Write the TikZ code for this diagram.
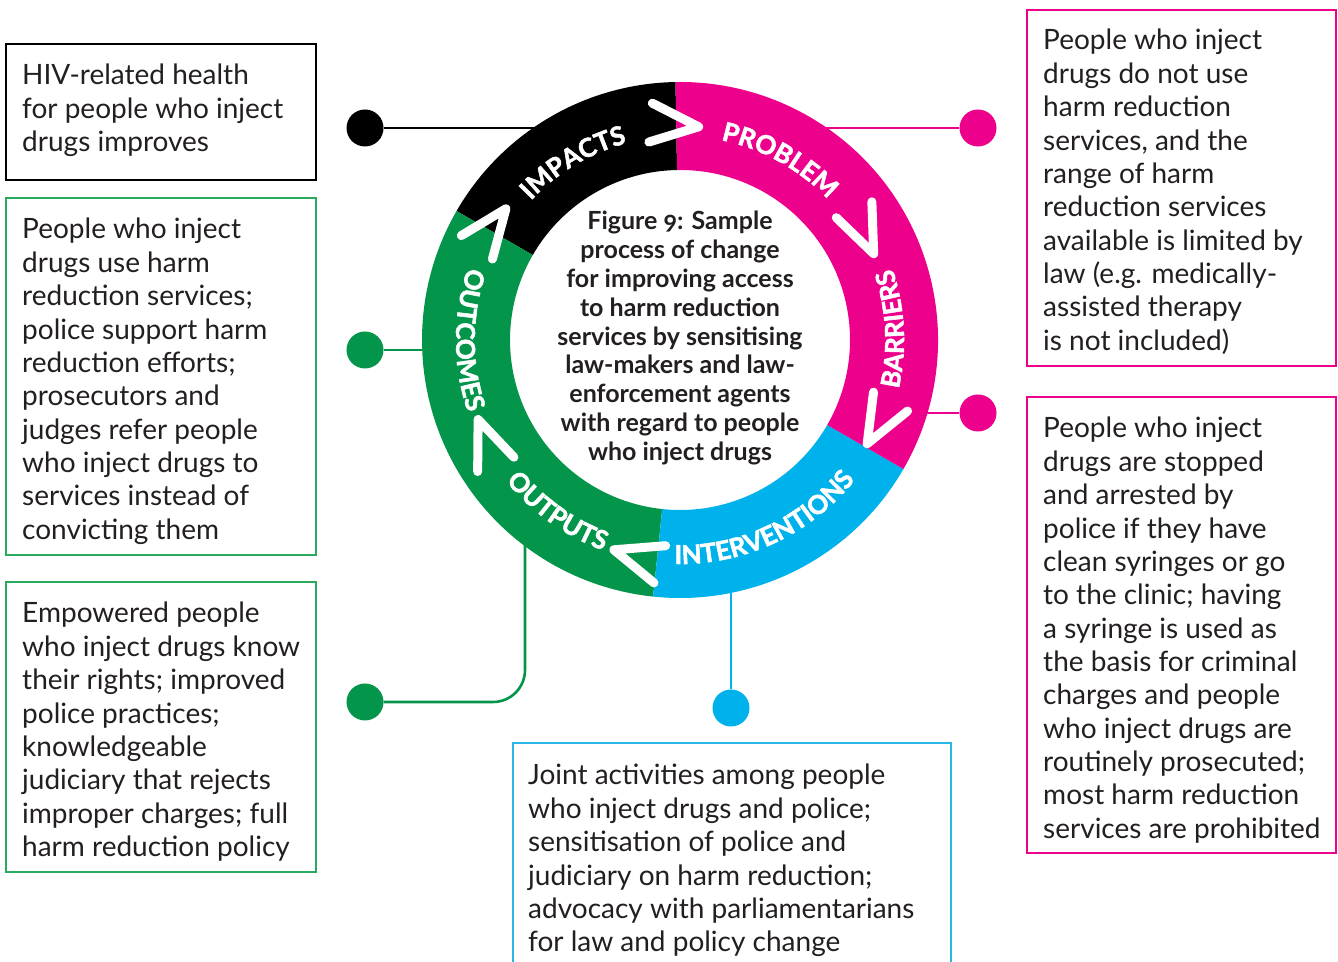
\documentclass[tikz,border=0pt]{standalone}
\usepackage{fontspec}
\setmainfont{Lato}
\newfontfamily\ringfont{Lato}[BoldFeatures={FakeBold=2}]
\usetikzlibrary{decorations.text,calc}
\definecolor{mag}{RGB}{236,0,140}
\definecolor{cyn}{RGB}{0,178,236}
\definecolor{grn}{RGB}{3,150,74}
\definecolor{grnb}{RGB}{40,170,95}
\definecolor{cynb}{RGB}{41,182,232}
\definecolor{ink}{RGB}{35,31,32}
\newcommand\bodytext[2][300pt]{\parbox[t]{#1}{\fontsize{28}{33.35}\selectfont\raggedright #2}}
\tikzset{
  boxline/.style={line width=1.5pt},
  body/.style={anchor=base west, inner sep=0pt, text=ink},
  dot/.style={circle, inner sep=0pt, minimum size=37pt},
  conn/.style={line width=2.6pt},
  chev/.style={white, line width=9pt, line cap=round, line join=round},
  ringlbl/.style={decorate, decoration={text along path, text align=center,
     text color=white, text format delimiters={|}{|},
     text={|\ringfont\bfseries\fontsize{26}{26}\selectfont|#1}}}
}
\begin{document}
\begin{tikzpicture}[x=1pt,y=1pt]
\useasboundingbox (0,0) rectangle (1338,961);
\fill[white] (0,0) rectangle (1338,961);
\coordinate (C) at (680,621);

% connector end points inside the ring
\coordinate (r1) at (560,833);
\coordinate (r2) at (800,833);
\coordinate (r3) at (900,548);
\coordinate (r4) at (450,611);
\coordinate (r5) at (525,450);
\coordinate (k5) at (525,259);
\coordinate (r6) at (731,400);

% dots
\node[dot, fill=black] (d1) at (365,833) {};
\node[dot, fill=mag] (d2) at (978,833) {};
\node[dot, fill=mag] (d3) at (978,548) {};
\node[dot, fill=grn] (d4) at (365,611) {};
\node[dot, fill=grn] (d5) at (365,259) {};
\node[dot, fill=cyn] (d6) at (731,253) {};

% connectors
\draw[conn, black] (d1) -- (r1);
\draw[conn, mag] (d2) -- (r2);
\draw[conn, mag] (d3) -- (r3);
\draw[conn, grn] (d4) -- (r4);
\draw[conn, grn, rounded corners=32pt] (r5) -- (k5) -- (d5);
\draw[conn, cyn] (d6) -- (r6);

% ring
\begin{scope}[shift={(C)}]
\fill[black] (91:258pt) arc[start angle=91,end angle=150,radius=258pt] -- (150:170pt) arc[start angle=150,end angle=91,radius=170pt] -- cycle;
\fill[grn] (150:258pt) arc[start angle=150,end angle=264,radius=258pt] -- (264:170pt) arc[start angle=264,end angle=150,radius=170pt] -- cycle;
\fill[cyn] (264:258pt) arc[start angle=264,end angle=330,radius=258pt] -- (330:170pt) arc[start angle=330,end angle=264,radius=170pt] -- cycle;
\fill[mag] (-30:258pt) arc[start angle=-30,end angle=91,radius=258pt] -- (91:170pt) arc[start angle=91,end angle=-30,radius=170pt] -- cycle;

\foreach \a/\r in {85/214, 24/212, -29/214, -107.5/220, 201.5/217, 143/218}{
  \draw[chev] ([shift={(\a+112:52pt)}]\a:\r pt) -- (\a:\r pt) -- ([shift={(\a+68:52pt)}]\a:\r pt);
}

\path[ringlbl=IMPACTS] (156:204pt) arc[start angle=156,end angle=86,radius=204pt];
\path[ringlbl=PROBLEM] (96:204pt) arc[start angle=96,end angle=26,radius=204pt];
\path[ringlbl=BARRIERS] (-37:224pt) arc[start angle=-37,end angle=43,radius=224pt];
\path[ringlbl=INTERVENTIONS] (-115:224pt) arc[start angle=-115,end angle=-15,radius=224pt];
\path[ringlbl=OUTPUTS] (199.5:224pt) arc[start angle=199.5,end angle=269.5,radius=224pt];
\path[ringlbl=OUTCOMES] (140:224pt) arc[start angle=140,end angle=220,radius=224pt];
\end{scope}

\node[anchor=base, inner sep=0pt, text=ink] (title) at (680,731)
  {\parbox[t]{320pt}{\centering\bfseries\fontsize{25}{28.8}\selectfont
   Figure {\addfontfeatures{Numbers=OldStyle}9}: Sample\\ process of change\\ for improving access\\ to harm reduction\\ services by sensitising\\ law-makers and law-\\ enforcement agents\\ with regard to people\\ who inject drugs}};

% boxes
\draw[boxline, black] (6,917) rectangle (316,781);
\draw[boxline, grnb] (6,763) rectangle (316,406);
\draw[boxline, grnb] (6,379) rectangle (316,89);
\draw[boxline, cynb] (513,218) rectangle (951,-10);
\draw[boxline, mag] (1027,951) rectangle (1336,595);
\draw[boxline, mag] (1027,564) rectangle (1336,108);

\node[body] (t1) at (22,876) {\bodytext{HIV-related health\\for people who inject\\drugs improves}};
\node[body] (t2) at (22,722) {\bodytext{People who inject\\drugs use harm\\reduction services;\\police support harm\\reduction efforts;\\prosecutors and\\judges refer people\\who inject drugs to\\services instead of\\convicting them}};
\node[body] (t3) at (22,338) {\bodytext{Empowered people\\who inject drugs know\\their rights; improved\\police practices;\\knowledgeable\\judiciary that rejects\\improper charges; full\\harm reduction policy}};
\node[body] (t4) at (528,176) {\bodytext[420pt]{Joint activities among people\\who inject drugs and police;\\sensitisation of police and\\judiciary on harm reduction;\\advocacy with parliamentarians\\for law and policy change}};
\node[body] (t5) at (1043,911) {\bodytext{People who inject\\drugs do not use\\harm reduction\\services, and the\\range of harm\\reduction services\\available is limited by\\law (e.g. medically-\\assisted therapy\\is not included)}};
\node[body] (t6) at (1043,523) {\bodytext{People who inject\\drugs are stopped\\and arrested by\\police if they have\\clean syringes or go\\to the clinic; having\\a syringe is used as\\the basis for criminal\\charges and people\\who inject drugs are\\routinely prosecuted;\\most harm reduction\\services are prohibited}};
\end{tikzpicture}
\end{document}
